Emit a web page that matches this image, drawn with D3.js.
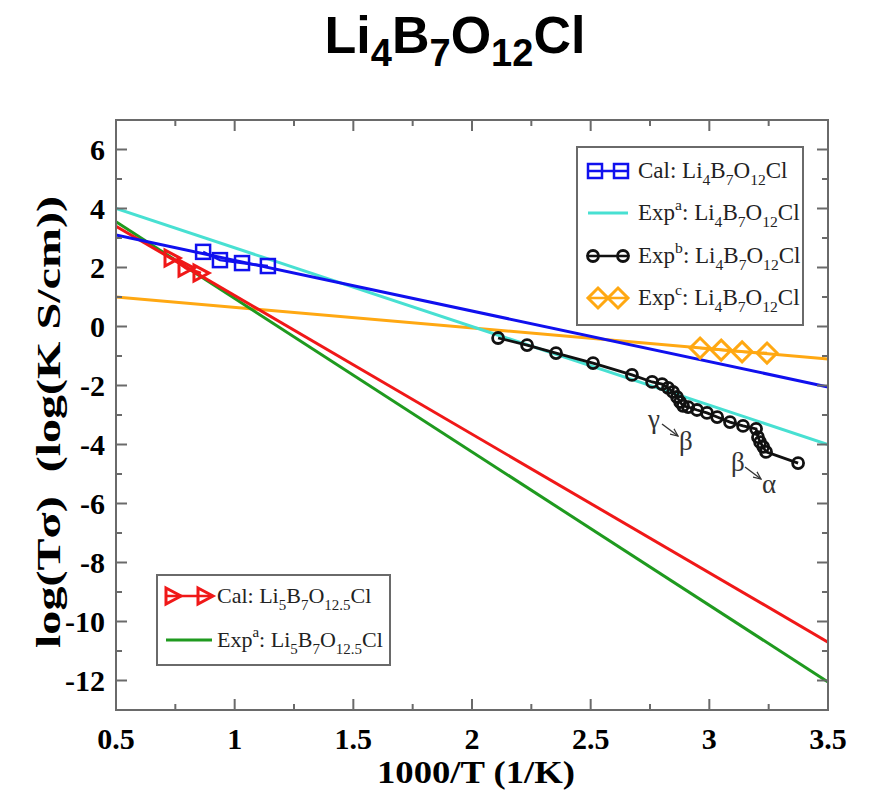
<!DOCTYPE html>
<html><head><meta charset="utf-8">
<script src="https://cdn.jsdelivr.net/npm/d3@7"></script>
<style>body{margin:0;background:#fff}svg{display:block}</style>
</head><body><svg id="c" width="871" height="791"></svg>
<script>
// ---------------- DATA ----------------
const xDomain = [0.5, 3.5];
const yDomain = [-13, 7];
const xMajorTicks = [0.5, 1, 1.5, 2, 2.5, 3, 3.5];
const xTickLabels = ["0.5", "1", "1.5", "2", "2.5", "3", "3.5"];
const yMajorTicks = [-12, -10, -8, -6, -4, -2, 0, 2, 4, 6];
const yTickLabels = ["-12", "-10", "-8", "-6", "-4", "-2", "0", "2", "4", "6"];

// fitted Arrhenius lines: endpoints at x = 0.5 and x = 3.5
const lineX = [0.5, 3.5];
const blueFitY = [3.1, -2.05];     // Cal: Li4B7O12Cl fit
const cyanFitY = [4.0, -4.0];      // Exp a: Li4B7O12Cl
const orangeFitY = [1.0, -1.1];    // Exp c fit
const redFitY = [3.4, -10.7];      // Cal: Li5B7O12.5Cl fit
const greenFitY = [3.55, -12.05];  // Exp a: Li5B7O12.5Cl

// Cal: Li4B7O12Cl (squares)
const calLi4X = [0.867, 0.938, 1.031, 1.14];
const calLi4Y = [2.53, 2.25, 2.15, 2.05];
// Cal: Li5B7O12.5Cl (triangles)
const calLi5X = [0.736, 0.795, 0.858];
const calLi5Y = [2.32, 1.98, 1.81];
// Exp c: Li4B7O12Cl (diamonds)
const expCX = [2.961, 3.05, 3.138, 3.243];
const expCY = [-0.73, -0.80, -0.86, -0.90];
// Exp b: Li4B7O12Cl (circles)
const expBX = [2.110, 2.232, 2.354, 2.510, 2.674, 2.759, 2.801, 2.826, 2.847, 2.864, 2.877, 2.889,
               2.911, 2.948, 2.990, 3.033, 3.087, 3.142, 3.197, 3.205, 3.214, 3.227, 3.239, 3.374];
const expBY = [-0.39, -0.63, -0.90, -1.24, -1.64, -1.88, -1.95, -2.08, -2.22, -2.39, -2.56, -2.69,
               -2.73, -2.83, -2.93, -3.07, -3.24, -3.37, -3.47, -3.75, -3.92, -4.08, -4.25, -4.63];

// ---------------- LAYOUT ----------------
const svg = d3.select("#c");
const L = 116, R = 828, T = 120, B = 710;
const x = d3.scaleLinear().domain(xDomain).range([L, R]);
const y = d3.scaleLinear().domain(yDomain).range([B, T]);
const frameColor = "#6a6a6a";
const serif = "'Liberation Serif','Times New Roman',serif";

const col = {blue: "#1010ee", cyan: "#48e0d2", black: "#111", orange: "#ffa812", red: "#f01818", green: "#1f9a1f"};

// rich text helper: segments [text, mode] mode: 0 normal, 'sub', 'sup'
function rich(t, segs, size) {
  let state = 0;
  segs.forEach(([s, m]) => {
    const target = m === "sub" ? 1 : m === "sup" ? -1 : 0;
    let dy = 0;
    if (target === 1 && state === 0) dy = 0.3 * size;
    else if (target === 0 && state === 1) dy = -0.3 * size;
    else if (target === -1 && state === 0) dy = -0.45 * size;
    else if (target === 0 && state === -1) dy = 0.45 * size;
    t.append("tspan").attr("dy", dy).attr("font-size", m ? size * 0.68 : size).text(s);
    state = target;
  });
  return t;
}

// ---------------- TITLE ----------------
const title = svg.append("text").attr("x", 455).attr("y", 53).attr("text-anchor", "middle")
  .attr("font-family", "'Liberation Sans',Arial,sans-serif").attr("font-weight", "bold").attr("font-size", 52);
(function () {
  const segs = [["Li", 0], ["4", "sub"], ["B", 0], ["7", "sub"], ["O", 0], ["12", "sub"], ["Cl", 0]];
  let st = 0;
  segs.forEach(([s, m]) => {
    let dy = 0;
    if (m && !st) dy = 13; else if (!m && st) dy = -13;
    title.append("tspan").attr("dy", dy).attr("font-size", m ? 38 : 52).text(s);
    st = m ? 1 : 0;
  });
})();

// ---------------- CLIP ----------------
svg.append("clipPath").attr("id", "clip").append("rect").attr("x", L).attr("y", T).attr("width", R - L).attr("height", B - T);
const plot = svg.append("g").attr("clip-path", "url(#clip)");

const line = d3.line().x(d => x(d[0])).y(d => y(d[1]));
function fit(ys, color) {
  plot.append("path").datum(lineX.map((v, i) => [v, ys[i]])).attr("d", line)
    .attr("fill", "none").attr("stroke", color).attr("stroke-width", 3);
}
fit(orangeFitY, col.orange);
fit(greenFitY, col.green);
fit(redFitY, col.red);
fit(cyanFitY, col.cyan);
fit(blueFitY, col.blue);

// marker drawing
function marker(g, kind, cx, cy, color) {
  if (kind === "square") {
    g.append("rect").attr("x", cx - 7).attr("y", cy - 7).attr("width", 14).attr("height", 14)
      .attr("fill", "none").attr("stroke", color).attr("stroke-width", 2.5);
  } else if (kind === "tri") {
    g.append("path").attr("d", `M${cx - 7},${cy - 8}L${cx + 8},${cy}L${cx - 7},${cy + 8}Z`)
      .attr("fill", "none").attr("stroke", color).attr("stroke-width", 3);
  } else if (kind === "diamond") {
    g.append("path").attr("d", `M${cx},${cy - 10}L${cx + 10},${cy}L${cx},${cy + 10}L${cx - 10},${cy}Z`)
      .attr("fill", "none").attr("stroke", color).attr("stroke-width", 3);
  } else if (kind === "circle") {
    g.append("circle").attr("cx", cx).attr("cy", cy).attr("r", 5.5)
      .attr("fill", "none").attr("stroke", color).attr("stroke-width", 2.8);
  }
}
function series(xs, ys, kind, color, lw) {
  const pts = xs.map((v, i) => [v, ys[i]]);
  plot.append("path").datum(pts).attr("d", line).attr("fill", "none").attr("stroke", color).attr("stroke-width", lw);
  const g = plot.append("g");
  pts.forEach(p => marker(g, kind, x(p[0]), y(p[1]), color));
}
series(calLi5X, calLi5Y, "tri", col.red, 3);
series(calLi4X, calLi4Y, "square", col.blue, 2.5);
series(expCX, expCY, "diamond", col.orange, 2.5);
series(expBX, expBY, "circle", col.black, 2.8);

// ---------------- ANNOTATIONS ----------------
svg.append("defs").append("marker").attr("id", "ah").attr("viewBox", "0 0 10 10").attr("refX", 9).attr("refY", 5)
  .attr("markerWidth", 6).attr("markerHeight", 6).attr("orient", "auto")
  .append("path").attr("d", "M0,1L9,5L0,9").attr("fill", "none").attr("stroke", "#333").attr("stroke-width", 1.5);
function annot(a, b, ax, ay) {
  svg.append("text").attr("x", ax).attr("y", ay).attr("font-family", serif).attr("font-size", 27).attr("fill", "#333").text(a);
  svg.append("line").attr("x1", ax + 14).attr("y1", ay - 4).attr("x2", ax + 30).attr("y2", ay + 8)
    .attr("stroke", "#333").attr("stroke-width", 1.4).attr("marker-end", "url(#ah)");
  svg.append("text").attr("x", ax + 31).attr("y", ay + 22).attr("font-family", serif).attr("font-size", 27).attr("fill", "#333").text(b);
}
annot("γ", "β", 648, 428);
annot("β", "α", 731, 471);

// ---------------- FRAME & TICKS ----------------
svg.append("rect").attr("x", L).attr("y", T).attr("width", R - L).attr("height", B - T)
  .attr("fill", "none").attr("stroke", frameColor).attr("stroke-width", 2);
const tk = svg.append("g").attr("stroke", frameColor).attr("stroke-width", 2);
const xMinor = d3.range(0.75, 3.5, 0.5);
const yMinor = d3.range(-13, 7, 2);
xMajorTicks.forEach(v => {
  tk.append("line").attr("x1", x(v)).attr("x2", x(v)).attr("y1", B).attr("y2", B - 11);
  tk.append("line").attr("x1", x(v)).attr("x2", x(v)).attr("y1", T).attr("y2", T + 11);
});
xMinor.forEach(v => {
  tk.append("line").attr("x1", x(v)).attr("x2", x(v)).attr("y1", B).attr("y2", B - 6);
  tk.append("line").attr("x1", x(v)).attr("x2", x(v)).attr("y1", T).attr("y2", T + 6);
});
yMajorTicks.forEach(v => {
  tk.append("line").attr("y1", y(v)).attr("y2", y(v)).attr("x1", L).attr("x2", L + 11);
  tk.append("line").attr("y1", y(v)).attr("y2", y(v)).attr("x1", R).attr("x2", R - 11);
});
yMinor.forEach(v => {
  tk.append("line").attr("y1", y(v)).attr("y2", y(v)).attr("x1", L).attr("x2", L + 6);
  tk.append("line").attr("y1", y(v)).attr("y2", y(v)).attr("x1", R).attr("x2", R - 6);
});

// tick labels
xMajorTicks.forEach((v, i) => {
  svg.append("text").attr("x", x(v)).attr("y", 749).attr("text-anchor", "middle")
    .attr("font-family", serif).attr("font-weight", "bold").attr("font-size", 30).text(xTickLabels[i]);
});
yMajorTicks.forEach((v, i) => {
  svg.append("text").attr("x", 105).attr("y", y(v) + 10).attr("text-anchor", "end")
    .attr("font-family", serif).attr("font-weight", "bold").attr("font-size", 30).text(yTickLabels[i]);
});

// axis titles
svg.append("text").attr("x", 476).attr("y", 783).attr("text-anchor", "middle")
  .attr("font-family", serif).attr("font-weight", "bold").attr("font-size", 32)
  .attr("textLength", 198).attr("lengthAdjust", "spacingAndGlyphs").text("1000/T (1/K)");
svg.append("text").attr("transform", "translate(60,422) rotate(-90)").attr("text-anchor", "middle")
  .attr("font-family", serif).attr("font-weight", "bold").attr("font-size", 34).style("white-space", "pre")
  .attr("textLength", 452).attr("lengthAdjust", "spacingAndGlyphs")
  .text("log(Tσ)  (log(K S/cm))");

// ---------------- LEGENDS ----------------
function legend(bx, by, bw, bh, rows, lx1, lx2, tx, fs) {
  svg.append("rect").attr("x", bx).attr("y", by).attr("width", bw).attr("height", bh)
    .attr("fill", "#fff").attr("stroke", frameColor).attr("stroke-width", 2);
  rows.forEach(r => {
    svg.append("line").attr("x1", lx1).attr("x2", lx2).attr("y1", r.y).attr("y2", r.y)
      .attr("stroke", r.color).attr("stroke-width", r.kind === "none" ? 3 : 2.5);
    if (r.kind !== "none") {
      const g = svg.append("g");
      const off = r.kind === "diamond" ? 10 : r.kind === "circle" ? 5 : 7;
      marker(g, r.kind, lx1 + off, r.y, r.color);
      marker(g, r.kind, lx2 - off, r.y, r.color);
    }
    const t = svg.append("text").attr("x", tx).attr("y", r.y + 7).attr("font-family", serif).attr("fill", "#222");
    rich(t, r.segs, fs);
  });
}
const li4 = [["Li", 0], ["4", "sub"], ["B", 0], ["7", "sub"], ["O", 0], ["12", "sub"], ["Cl", 0]];
const li5 = [["Li", 0], ["5", "sub"], ["B", 0], ["7", "sub"], ["O", 0], ["12.5", "sub"], ["Cl", 0]];
legend(577, 147, 226, 178, [
  {y: 171, color: col.blue, kind: "square", segs: [["Cal: ", 0]].concat(li4)},
  {y: 213, color: col.cyan, kind: "none", segs: [["Exp", 0], ["a", "sup"], [": ", 0]].concat(li4)},
  {y: 256, color: col.black, kind: "circle", segs: [["Exp", 0], ["b", "sup"], [": ", 0]].concat(li4)},
  {y: 298, color: col.orange, kind: "diamond", segs: [["Exp", 0], ["c", "sup"], [": ", 0]].concat(li4)}
], 588, 628, 638, 23);
legend(157, 575, 233, 90, [
  {y: 596, color: col.red, kind: "tri", segs: [["Cal: ", 0]].concat(li5)},
  {y: 640, color: col.green, kind: "none", segs: [["Exp", 0], ["a", "sup"], [": ", 0]].concat(li5)}
], 166, 212, 217, 22);
</script></body></html>
